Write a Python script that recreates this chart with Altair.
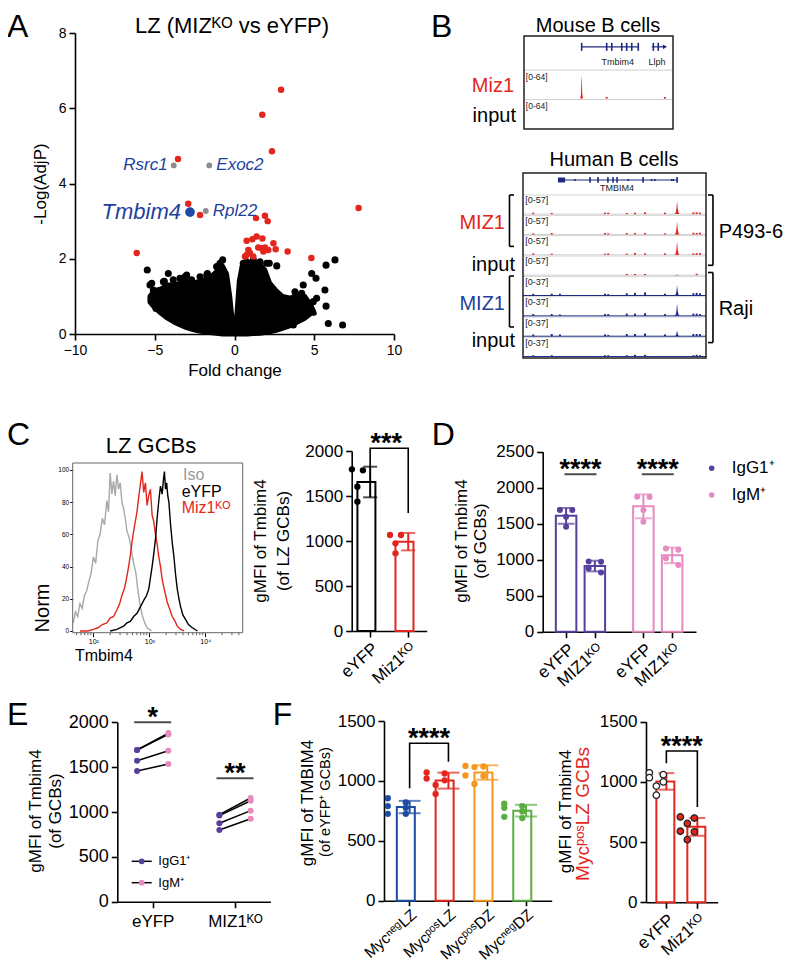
import altair as alt
import numpy as np
import pandas as pd

W, H = 784, 955
FONT = "Liberation Sans"
RED = "#e3261d"
LBLUE = "#1f3f9e"
GENE = "#1c2a7f"
TRKBLUE = "#1e2c86"
PURPLE = "#573f9b"
PINK = "#e68ac0"
FBLUE = "#1d4da3"
ORANGE = "#f5961e"
GREEN = "#5aae41"
ISO = "#a8a8a8"
ROT = -42

# ---------------- data ----------------
# A: volcano plot
cloud_x = [-5.3, -5.0, -4.6, -4.2, -3.8, -3.4, -3.0, -2.6, -2.2, -1.8, -1.4, -1.0, -0.75, -0.5, -0.3, -0.12, 0.0, 0.15, 0.3, 0.5,
           0.8, 1.2, 1.6, 1.9, 2.2, 2.6, 3.0, 3.5, 4.0, 4.4, 4.8, 5.0]
cloud_hi = [1.0, 1.15, 1.2, 1.3, 1.3, 1.35, 1.4, 1.35, 1.4, 1.45, 1.55, 1.7, 1.8, 1.6, 1.0, 0.25, 0.05, 0.5, 1.4, 1.85,
            1.88, 1.9, 1.85, 1.7, 1.35, 1.15, 1.0, 0.95, 1.05, 1.0, 0.75, 0.55]
cloud_lo = [0.85, 0.7, 0.55, 0.42, 0.32, 0.24, 0.17, 0.12, 0.08, 0.05, 0.03, 0.01, 0, 0, 0, 0, 0, 0, 0, 0,
            0, 0.01, 0.02, 0.04, 0.06, 0.1, 0.15, 0.22, 0.33, 0.42, 0.55, 0.55]
black_x = [-5.47, -5.19, -5.09, -4.92, -4.46, -4.15, -3.84, -4.57, -4.25, -4.04, -3.42, -3.0, -2.69, -2.16, -1.7, -1.12, -0.91,
           -0.74, -0.8, 0.55, 0.76, 1.18, 1.6, 2.02, 2.18, 2.65, 2.02, 2.44, 3.17, 3.79, 4.31, 4.21, 4.84, 5.11, 4.94, 4.84,
           4.21, 3.69, 5.74, 6.30, 5.67, 5.15, 5.74, 5.88, 6.78, -4.4, -3.1, -1.74, -5.3, -5.0, -4.7]
black_y = [1.70, 1.35, 1.17, 0.68, 1.39, 1.61, 1.44, 1.04, 0.81, 0.46, 1.48, 1.57, 1.44, 1.52, 1.61, 1.79, 1.88, 1.97, 1.52,
           1.88, 1.92, 1.97, 1.92, 1.88, 1.88, 1.81, 1.26, 1.17, 0.9, 1.12, 1.30, 1.08, 1.61, 1.48, 0.86, 0.64, 0.46, 0.24,
           1.83, 1.97, 1.17, 0.95, 0.74, 0.28, 0.24, 1.4, 1.52, 1.57, 1.3, 0.9, 0.7]
red_x = [2.92, 1.74, 2.35, -3.54, 7.78, -2.9, -2.16, 1.35, 1.91, 2.08, -6.13, 3.33, 4.82, 0.76, 1.12, 1.39, 1.75, 2.44, 1.49,
         1.91, 0.87, 1.81, 2.12, 0.76, 0.97, 1.70, 1.18, 2.58, 0.66]
red_y = [6.49, 5.83, 4.86, 4.65, 3.35, 3.46, 3.16, 3.08, 3.14, 3.0, 2.15, 2.19, 2.02, 2.48, 2.52, 2.59, 2.54, 2.41, 2.30,
         2.30, 2.23, 2.19, 2.23, 2.10, 2.15, 2.28, 2.06, 2.25, 2.06]
gray_names = ["Rsrc1", "Exoc2", "Rpl22"]
gray_x = [-3.81, -1.58, -1.80]
gray_y = [4.48, 4.48, 3.27]
hit_name = ["Tmbim4"]
hit_x = [-2.79]
hit_y = [3.24]

# B: genome tracks (x = % of the browser window, signal in reads)
m_exon_x = [38.7, 55.5, 58.9, 65.6, 68.9, 72.3, 76.7]
m_llph_exon_x = [86.8, 90.1]
m_peak_x = [37.7, 38.2, 38.5, 38.8, 39.1, 39.6]
m_peak_s = [0, 8, 40, 56, 12, 0]
m_dot_x = [55.5, 94.6]
m_dot_s = [4, 4]

h_exon_x = [36.6, 41.0, 46.4, 49.2, 51.4, 65.6, 84.2]
h_dot_x = [28.4, 57.5, 70.3, 72.1, 81.3, 82.2]
h_bump_x = [5.6, 15.7, 20.2, 44.8, 46.6, 56.7, 61.2, 66.7, 77.6, 93.1, 94.9, 96.7]
h_peak_x = 84.2
trk_label = ["[0-57]"] * 4 + ["[0-37]"] * 4
trk_max = [57] * 4 + [37] * 4
trk_peak = [46, 46, 46, 2, 23, 28, 13, 1]
trk_bumps = [
    [5, 4, 0, 5, 5, 4, 5, 6, 5, 6, 6, 5],
    [4, 5, 0, 5, 4, 5, 5, 5, 4, 6, 5, 6],
    [5, 4, 0, 4, 5, 4, 6, 5, 5, 5, 6, 6],
    [0, 0, 0, 0, 0, 4, 4, 4, 0, 0, 5, 0],
    [4, 4, 4, 4, 3, 5, 6, 7, 4, 5, 6, 5],
    [4, 4, 3, 4, 4, 5, 5, 6, 4, 5, 5, 4],
    [4, 5, 4, 4, 3, 5, 5, 6, 4, 5, 5, 5],
    [3, 3, 0, 3, 3, 3, 4, 4, 0, 3, 4, 3],
]
peak_dx = [-1.4, -0.7, -0.35, 0.0, 0.35, 0.8, 1.4]
peak_a = [0, 0.12, 0.45, 1.0, 0.4, 0.1, 0]

# C: histogram (x = log10 intensity, y = % of max)
iso_x = [1.64, 1.68, 1.72, 1.76, 1.80, 1.84, 1.88, 1.92, 1.96, 2.00, 2.04, 2.08, 2.12, 2.16, 2.20, 2.24, 2.27, 2.30, 2.33,
         2.36, 2.39, 2.42, 2.45, 2.48, 2.51, 2.54, 2.57, 2.60, 2.64, 2.68, 2.72, 2.76, 2.80, 2.84, 2.88, 2.92, 2.96, 3.00, 3.04]
iso_y = [5, 12, 9, 17, 14, 22, 25, 31, 36, 46, 42, 56, 60, 70, 66, 81, 74, 98, 85, 93, 84, 97, 88, 92, 80, 76, 70, 62, 58,
         50, 42, 36, 24, 15, 9, 5, 2, 1, 0]
ko_x = [1.76, 1.90, 2.00, 2.08, 2.16, 2.24, 2.30, 2.36, 2.42, 2.47, 2.51, 2.56, 2.60, 2.63, 2.66, 2.69, 2.72, 2.75, 2.78,
        2.81, 2.84, 2.87, 2.90, 2.93, 2.96, 2.99, 3.02, 3.05, 3.08, 3.11, 3.14, 3.17, 3.20, 3.23, 3.28, 3.32, 3.37, 3.41,
        3.46, 3.50, 3.56, 3.62]
ko_y = [0, 0, 1, 2, 4, 5, 8, 9, 13, 17, 22, 27, 34, 40, 47, 55, 62, 68, 74, 83, 91, 99, 86, 92, 78, 84, 88, 72, 68, 60, 54,
        46, 40, 32, 24, 18, 13, 9, 6, 3, 1, 0]
wt_x = [2.30, 2.42, 2.54, 2.60, 2.66, 2.72, 2.78, 2.84, 2.90, 2.95, 2.99, 3.02, 3.05, 3.08, 3.11, 3.14, 3.17, 3.20, 3.23,
        3.25, 3.27, 3.29, 3.31, 3.33, 3.35, 3.38, 3.41, 3.44, 3.47, 3.50, 3.53, 3.56, 3.60, 3.65, 3.70, 3.77, 3.86]
wt_y = [0, 1, 3, 5, 6, 9, 11, 15, 19, 22, 26, 33, 40, 48, 57, 70, 81, 90, 85, 93, 99, 88, 92, 84, 80, 66, 55, 46, 35, 26,
        20, 15, 10, 7, 4, 2, 0]

# C bars
C_cats = ["eYFP", "Miz1ᴷᴼ"]
C_vals = [[1796, 1785, 1604, 1437], [1067, 1067, 974, 863]]
# D bars
D_groups = ["IgG1⁺", "IgM⁺"]
D_genos = ["eYFP", "MIZ1ᴷᴼ"]
D_vals = [[1690, 1690, 1597, 1458], [975, 970, 880, 822], [1875, 1870, 1690, 1528], [1157, 1139, 1019, 926]]
# E paired
E_genos = ["eYFP", "MIZ1ᴷᴼ"]
E_igg1 = [[1691, 1691, 1572, 1457], [970, 960, 874, 799]]
E_igm = [[1880, 1865, 1683, 1535], [1156, 1126, 1015, 925]]
# F
F_cats = ["MycⁿᵉᵍLZ", "MycᵖᵒˢLZ", "MycᵖᵒˢDZ", "MycⁿᵉᵍDZ"]
F_vals = [[855, 820, 790, 775, 725, 725], [1070, 1062, 1020, 1005, 966, 891],
          [1125, 1120, 1115, 1045, 1040, 975], [810, 790, 775, 745, 700, 690]]
G_cats = ["eYFP", "Miz1ᴷᴼ"]
G_vals = [[1075, 1060, 1035, 1000, 965, 890], [709, 700, 655, 590, 585, 520]]


# ---------------- helpers ----------------
def cx(p):
    return p - 8


def cy(p):
    return p - 8


def xsc(domain, p0, p1, **kw):
    return alt.Scale(domain=domain, range=[cx(p0), cx(p1)], **kw)


def ysc(domain, pbot, ptop, **kw):
    return alt.Scale(domain=domain, range=[cy(pbot), cy(ptop)], **kw)


def bax(page_y, **kw):
    d = dict(orient="bottom", offset=cy(page_y) - H, title="", grid=False, labelFlush=False, labelOverlap=False)
    d.update(kw)
    return alt.Axis(**d)


def lax(page_x, **kw):
    d = dict(orient="left", offset=-cx(page_x), title="", grid=False, labelOverlap=False, format="d")
    d.update(kw)
    return alt.Axis(**d)


ONE = pd.DataFrame({"k": [0]})


def note(text, x, y, size=17, color="black", align="left", baseline="alphabetic", angle=0, style="normal",
         weight="normal"):
    kw = dict(text=text, fontSize=size, color=color, align=align, baseline=baseline, fontStyle=style,
              fontWeight=weight)
    if angle:
        kw["angle"] = angle
    return alt.Chart(ONE).mark_text(**kw).encode(x=alt.value(cx(x)), y=alt.value(cy(y)))


def slots(vals, thr):
    order = sorted(range(len(vals)), key=lambda i: -vals[i])
    out = [0] * len(vals)
    k = 0
    while k < len(order):
        if k + 1 < len(order) and vals[order[k]] - vals[order[k + 1]] < thr:
            out[order[k]] = -1
            out[order[k + 1]] = 1
            k += 2
        else:
            k += 1
    return out


def QX(f, sc, axis=None):
    return alt.X(f, type="quantitative", scale=sc, axis=axis)


def QY(f, sc, axis=None):
    return alt.Y(f, type="quantitative", scale=sc, axis=axis)


layers = []

# ---------------- panel A ----------------
sxA = xsc([-10, 10], 75, 394)
syA = ysc([0, 8], 334, 33)
axAx = bax(334, values=[-10, -5, 0, 5, 10], title="Fold change", labelFontSize=14, titleFontSize=17,
           titlePadding=5, labelPadding=3)
axAy = lax(75, values=[0, 2, 4, 6, 8], title="-Log(AdjP)", labelFontSize=14, titleFontSize=17,
           titlePadding=9, labelPadding=3)
A_area = alt.Chart(pd.DataFrame({"x": cloud_x, "hi": cloud_hi, "lo": cloud_lo})).mark_area(
    color="black", stroke="black", strokeWidth=5, strokeJoin="round").encode(
    x=QX("x", sxA, axAx), y=QY("hi", syA, axAy), y2=alt.Y2("lo"))


def A_pts(xs, ys, color, size):
    return alt.Chart(pd.DataFrame({"x": xs, "y": ys})).mark_circle(color=color, size=size, opacity=1).encode(
        x=QX("x", sxA, axAx), y=QY("y", syA, axAy))


A_labels = []
for nm, gx, gy, side in zip(gray_names, gray_x, gray_y, ["right", "left", "left"]):
    A_labels.append(alt.Chart(pd.DataFrame({"x": [gx], "y": [gy], "t": [nm]})).mark_text(
        align=side, baseline="middle", dx=(-6 if side == "right" else 7), fontSize=17, fontStyle="italic",
        color=LBLUE).encode(x=QX("x", sxA, axAx), y=QY("y", syA, axAy), text="t:N"))
A_labels.append(alt.Chart(pd.DataFrame({"x": hit_x, "y": hit_y, "t": hit_name})).mark_text(
    align="right", baseline="middle", dx=-9, fontSize=22, fontStyle="italic", color=LBLUE).encode(
    x=QX("x", sxA, axAx), y=QY("y", syA, axAy), text="t:N"))
layers.append(alt.layer(A_area, A_pts(black_x, black_y, "black", 50), A_pts(red_x, red_y, RED, 42),
                        A_pts(gray_x, gray_y, "#8c8c8c", 34), A_pts(hit_x, hit_y, "#1f4aa8", 95), *A_labels))
layers.append(note("A", 7, 37, 32))
layers.append(note("LZ (MIZᴷᴼ vs eYFP)", 232, 32.5, 22, align="center"))


# ---------------- panel B ----------------
def hrules(df, sx, sy, w, ax=None, ay=None):
    return alt.Chart(df).mark_rule(strokeWidth=w).encode(
        x=QX("x0", sx, ax), x2=alt.X2("x1"), y=QY("y", sy, ay), color=alt.Color("c:N", scale=None))


def vrules(df, sx, sy, w, ax=None, ay=None):
    return alt.Chart(df).mark_rule(strokeWidth=w).encode(
        x=QX("x", sx, ax), y=QY("y0", sy, ay), y2=alt.Y2("y1"), color=alt.Color("c:N", scale=None))


def texts(df, sx, sy, size, align, baseline):
    return alt.Chart(df).mark_text(fontSize=size, align=align, baseline=baseline).encode(
        x=QX("x", sx), y=QY("y", sy), text="t:N", color=alt.Color("c:N", scale=None))


def boxrect(x0, x1, y0, y1, sx, sy, stroke="#222", w=1.5, ax=None, ay=None):
    return alt.Chart(pd.DataFrame({"x0": [x0], "x1": [x1], "y0": [y0], "y1": [y1]})).mark_rect(
        fill="white", fillOpacity=0, stroke=stroke, strokeWidth=w).encode(
        x=QX("x0", sx, ax), x2=alt.X2("x1"), y=QY("y0", sy, ay), y2=alt.Y2("y1"))


# mouse
sxM = xsc([0, 100], 524, 673)
syM = alt.Scale(domain=[0, 3], range=[cy(36), cy(129)])
m_rows = [0, 1.1, 2.05, 3]
m_base = 2.02
M = []
M.append(hrules(pd.DataFrame({"x0": [0, 0], "x1": [100, 100], "y": [m_rows[1], m_rows[2]], "c": ["#cfcfcf"] * 2}),
                sxM, syM, 1))
m_pk = pd.DataFrame({"x": m_peak_x, "top": [m_base - s / 64 * 0.85 for s in m_peak_s], "base": [m_base] * 6})
M.append(alt.Chart(m_pk).mark_area(color=RED).encode(x=QX("x", sxM), y=QY("top", syM), y2=alt.Y2("base")))
M.append(vrules(pd.DataFrame({"x": m_dot_x, "y0": [m_base - s / 64 * 0.85 for s in m_dot_s], "y1": [m_base] * 2,
                              "c": [RED] * 2}), sxM, syM, 2))
M.append(hrules(pd.DataFrame({"x0": [m_exon_x[0], m_llph_exon_x[0] - 1.1], "x1": [m_exon_x[-1], 94.6],
                              "y": [0.35, 0.35], "c": [GENE, GENE]}), sxM, syM, 1.2))
M.append(vrules(pd.DataFrame({"x": m_exon_x + m_llph_exon_x, "y0": [0.22] * 9, "y1": [0.48] * 9, "c": [GENE] * 9}),
                sxM, syM, 1.6))
M.append(alt.Chart(pd.DataFrame({"x": [94.6], "y": [0.35]})).mark_point(
    shape="triangle-right", filled=True, size=22, color=GENE, opacity=1).encode(x=QX("x", sxM), y=QY("y", syM)))
M.append(texts(pd.DataFrame({"x": [63, 89.3], "y": [0.83, 0.83], "t": ["Tmbim4", "Llph"], "c": ["#222"] * 2}),
               sxM, syM, 9, "center", "middle"))
M.append(texts(pd.DataFrame({"x": [1.2, 1.2], "y": [m_rows[1] + 0.08, m_rows[2] + 0.08], "t": ["[0-64]"] * 2,
                             "c": ["#222"] * 2}), sxM, syM, 8.5, "left", "top"))
M.append(texts(pd.DataFrame({"x": [-6.7, -5.4], "y": [1.6, 2.58], "t": ["Miz1", "input"], "c": [RED, "black"]}),
               sxM, syM, 20, "right", "middle"))
M.append(boxrect(0, 100, 0, 3, sxM, syM))
layers.append(alt.layer(*M))
layers.append(note("B", 431, 37, 32))
layers.append(note("Mouse B cells", 598, 32, 20, align="center"))

# human
sxHu = xsc([0, 100], 523, 706)
syHu = alt.Scale(domain=[0, 9], range=[cy(173), cy(358)])
tops = [1.07 + i * 0.99 for i in range(8)]
bases = [t + 0.93 for t in tops]
HU = []
HU.append(hrules(pd.DataFrame({"x0": [0] * 8, "x1": [100] * 8, "y": tops, "c": ["#d4d4d4"] * 8}), sxHu, syHu, 1))
HU.append(hrules(pd.DataFrame({"x0": [0] * 8, "x1": [100] * 8, "y": bases,
                               "c": ["#cfcfcf"] * 4 + [TRKBLUE] * 4}), sxHu, syHu, 1))
pk_rows, bump_rows = [], []
for i in range(8):
    col = RED if i < 4 else TRKBLUE
    for dx, a in zip(peak_dx, peak_a):
        pk_rows.append(dict(seg=i, x=h_peak_x + dx, top=bases[i] - a * trk_peak[i] / trk_max[i] * 0.8,
                            base=bases[i], c=col))
    for bx, s in zip(h_bump_x, trk_bumps[i]):
        if s > 0:
            bump_rows.append(dict(x=bx, y0=bases[i] - s / trk_max[i] * 0.8, y1=bases[i], c=col))
HU.append(alt.Chart(pd.DataFrame(pk_rows)).mark_area().encode(
    x=QX("x", sxHu), y=QY("top", syHu), y2=alt.Y2("base"), detail="seg:N", color=alt.Color("c:N", scale=None)))
HU.append(vrules(pd.DataFrame(bump_rows), sxHu, syHu, 2))
HU.append(hrules(pd.DataFrame({"x0": [19.1], "x1": [84.5], "y": [0.34], "c": [GENE]}), sxHu, syHu, 1.2))
HU.append(alt.Chart(pd.DataFrame({"x0": [19.1], "x1": [23.0], "y0": [0.22], "y1": [0.46]})).mark_rect(
    color=GENE).encode(x=QX("x0", sxHu), x2=alt.X2("x1"), y=QY("y0", syHu), y2=alt.Y2("y1")))
HU.append(vrules(pd.DataFrame({"x": h_exon_x, "y0": [0.2] * 7, "y1": [0.48] * 7, "c": [GENE] * 7}), sxHu, syHu, 1.6))
HU.append(vrules(pd.DataFrame({"x": h_dot_x, "y0": [0.29] * 6, "y1": [0.39] * 6, "c": [GENE] * 6}), sxHu, syHu, 1.6))
HU.append(texts(pd.DataFrame({"x": [51.4], "y": [0.74], "t": ["TMBIM4"], "c": ["#222"]}), sxHu, syHu, 9,
                "center", "middle"))
HU.append(texts(pd.DataFrame({"x": [1.2] * 8, "y": [t + 0.07 for t in tops], "t": trk_label, "c": ["#222"] * 8}),
                sxHu, syHu, 9, "left", "top"))
# brackets
HU.append(vrules(pd.DataFrame({"x": [-7.38, -7.38, 103.8, 103.8], "y0": [1.07, 5.01, 1.07, 4.84],
                               "y1": [3.57, 7.49, 4.49, 8.25], "c": ["black"] * 4}), sxHu, syHu, 1.6))
HU.append(hrules(pd.DataFrame({"x0": [-7.38] * 4 + [101.1] * 4, "x1": [-4.92] * 4 + [103.8] * 4,
                               "y": [1.07, 3.57, 5.01, 7.49, 1.07, 4.49, 4.84, 8.25], "c": ["black"] * 8}),
                 sxHu, syHu, 1.6))
HU.append(texts(pd.DataFrame({"x": [-9.84, -4.37, -9.84, -4.37], "y": [2.43, 4.47, 6.35, 8.17],
                              "t": ["MIZ1", "input", "MIZ1", "input"], "c": [RED, "black", LBLUE, "black"]}),
                sxHu, syHu, 20, "right", "middle"))
HU.append(texts(pd.DataFrame({"x": [106.9, 106.9], "y": [2.85, 6.61], "t": ["P493-6", "Raji"],
                              "c": ["black", "black"]}), sxHu, syHu, 20, "left", "middle"))
HU.append(boxrect(0, 100, 0, 9, sxHu, syHu))
layers.append(alt.layer(*HU))
layers.append(note("Human B cells", 614, 166, 20, align="center"))

# ---------------- panel C histogram ----------------
sxCh = xsc([1.63, 4.67], 72.7, 242.7)
syCh = ysc([-1.06, 104.3], 632.7, 463)
axChx = bax(632.7, values=[2, 3, 4], domain=False, tickSize=4, tickWidth=1, labelFontSize=7, labelPadding=1,
            labelExpr="datum.value == 2 ? '10²' : datum.value == 3 ? '10³' : '10⁴'")
axChy = lax(72.7, values=[0, 20, 40, 60, 80, 100], domain=False, tickSize=3, tickWidth=1, labelFontSize=6.5,
            labelPadding=1)
minor = [float(np.log10(k * 10 ** d)) for d in (1, 2, 3, 4) for k in range(2, 10)]
minor = [m for m in minor if 1.63 < m < 4.67]
hist = pd.concat([
    pd.DataFrame({"x": iso_x, "y": iso_y, "s": "iso", "c": ISO}),
    pd.DataFrame({"x": ko_x, "y": ko_y, "s": "ko", "c": RED}),
    pd.DataFrame({"x": wt_x, "y": wt_y, "s": "wt", "c": "black"}),
])
CH = []
CH.append(alt.Chart(hist).mark_line(strokeWidth=1.4).encode(
    x=QX("x", sxCh, axChx), y=QY("y", syCh, axChy), detail="s:N", color=alt.Color("c:N", scale=None)))
CH.append(vrules(pd.DataFrame({"x": minor, "y0": [-1.06] * len(minor), "y1": [-2.6] * len(minor),
                               "c": ["#333"] * len(minor)}), sxCh, syCh, 0.8, axChx, axChy))
CH.append(boxrect(1.63, 4.67, -1.06, 104.3, sxCh, syCh, stroke="#666", w=1, ax=axChx, ay=axChy))
layers.append(alt.layer(*CH))
layers.append(note("C", 7, 445, 32))
layers.append(note("LZ GCBs", 151, 452.5, 22, align="center"))
layers.append(note("Iso", 183, 480, 16, color="#9a9a9a"))
layers.append(note("eYFP", 181.7, 497, 16))
layers.append(note("Miz1ᴷᴼ", 181.7, 513, 16, color=RED))
layers.append(note("Norm", 43, 608, 20, align="center", baseline="middle", angle=270))
layers.append(note("Tmbim4", 75, 661, 16))


# ---------------- bar panels (band x) ----------------
def bar_panel(cats, vals, cols, sx, sy, xax, yax, jit, thr, cap, psize, bracket, stars, star_dx,
              pfill=None, pstroke=None, psw=0.0):
    S, P = [], []
    for i, (c, v, col) in enumerate(zip(cats, vals, cols)):
        m = float(np.mean(v))
        s = float(np.std(v, ddof=1))
        S.append(dict(cat=c, mean=m, lo=m - s, hi=m + s, col=col))
        pf = pfill[i] if pfill else col
        ps = pstroke[i] if pstroke else col
        for val, sl in zip(v, slots(v, thr)):
            P.append(dict(cat=c, v=val, slot=sl, pf=pf, ps=ps))
    dS = pd.DataFrame(S)
    dP = pd.DataFrame(P)
    dC = pd.concat([dS[["cat", "col"]].assign(v=dS["hi"]), dS[["cat", "col"]].assign(v=dS["lo"])])

    def X0():
        return alt.X("cat:N", scale=sx, axis=xax)

    bars = alt.Chart(dS).mark_bar(fill="white", strokeWidth=2).encode(
        x=X0(), y=QY("mean", sy, yax), stroke=alt.Stroke("col:N", scale=None))
    err = alt.Chart(dS).mark_rule(strokeWidth=2).encode(
        x=X0(), y=QY("lo", sy, yax), y2=alt.Y2("hi"), color=alt.Color("col:N", scale=None))
    caps = alt.Chart(dC).mark_tick(orient="horizontal", size=cap, thickness=2).encode(
        x=X0(), y=QY("v", sy, yax), color=alt.Color("col:N", scale=None))
    pts = alt.Chart(dP).mark_point(filled=True, size=psize, opacity=1, strokeWidth=psw).encode(
        x=X0(), xOffset=alt.XOffset("slot:Q", scale=alt.Scale(domain=[-1, 1], range=[-jit, jit])),
        y=QY("v", sy, yax), fill=alt.Fill("pf:N", scale=None), stroke=alt.Stroke("ps:N", scale=None))
    dB = pd.DataFrame({"cat": [b[0] for b in bracket], "v": [b[1] for b in bracket],
                       "o": list(range(len(bracket)))})
    br = alt.Chart(dB).mark_line(color="black", strokeWidth=1.6).encode(x=X0(), y=QY("v", sy, yax), order="o:Q")
    top = max(b[1] for b in bracket)
    st = alt.Chart(pd.DataFrame({"cat": [bracket[0][0]], "v": [top], "t": [stars]})).mark_text(
        fontSize=27, fontWeight="bold", dx=star_dx, dy=4, baseline="alphabetic").encode(
        x=X0(), y=QY("v", sy, yax), text="t:N")
    return alt.layer(bars, err, caps, pts, br, st)


# C bar
sxC = xsc(C_cats, 351.7, 426.7, type="band", paddingInner=0.33, paddingOuter=0.15)
syC = ysc([0, 2000], 631, 451)
layers.append(bar_panel(
    C_cats, C_vals, ["black", RED], sxC, syC,
    bax(631, labelAngle=ROT, labelFontSize=17, labelPadding=3),
    lax(351.7, values=[0, 500, 1000, 1500, 2000], labelFontSize=17, labelPadding=3),
    jit=5.5, thr=80, cap=14, psize=40,
    bracket=[(C_cats[0], 1825), (C_cats[0], 2030), (C_cats[1], 2030), (C_cats[1], 1310)],
    stars="***", star_dx=16.2))
layers.append(note("gMFI of Tmbim4", 260.8, 541, 17, align="center", baseline="middle", angle=270))
layers.append(note("(of LZ GCBs)", 284, 541, 17, align="center", baseline="middle", angle=270))

# ---------------- panel D ----------------
sxD = xsc([-0.424, 1.43], 542.7, 696)
syD = ysc([0, 2500], 631.7, 451.7)
DODGE = 0.186
axDx = bax(631.7, values=[-DODGE, DODGE, 1 - DODGE, 1 + DODGE], labelAngle=ROT, labelFontSize=17, labelPadding=3,
           labelExpr="((datum.value % 1) + 1) % 1 > 0.5 ? 'eYFP' : 'MIZ1ᴷᴼ'")
axDy = lax(542.7, values=[0, 500, 1000, 1500, 2000, 2500], labelFontSize=17, labelPadding=3)
D_cols = [PURPLE, PINK]
DS, DP, DC = [], [], []
k = 0
for gi, g in enumerate(D_groups):
    for si, ge in enumerate(D_genos):
        v = D_vals[k]
        k += 1
        pos = gi + (DODGE if si else -DODGE)
        m = float(np.mean(v))
        s = float(np.std(v, ddof=1))
        DS.append(dict(pos=pos, mean=m, lo=m - s, hi=m + s, col=D_cols[gi]))
        DC += [dict(pos=pos, v=m + s, col=D_cols[gi]), dict(pos=pos, v=m - s, col=D_cols[gi])]
        for val, sl in zip(v, slots(v, 100)):
            DP.append(dict(pos=pos + sl * 0.08, v=val, col=D_cols[gi]))
dDS = pd.DataFrame(DS)
D_layers = [
    alt.Chart(dDS).mark_bar(orient="vertical", width=20.5, fill="white", strokeWidth=2).encode(
        x=QX("pos", sxD, axDx), y=QY("mean", syD, axDy), stroke=alt.Stroke("col:N", scale=None)),
    alt.Chart(dDS).mark_rule(strokeWidth=2).encode(x=QX("pos", sxD, axDx), y=QY("lo", syD, axDy), y2=alt.Y2("hi"),
                                                   color=alt.Color("col:N", scale=None)),
    alt.Chart(pd.DataFrame(DC)).mark_tick(orient="horizontal", size=17, thickness=2).encode(
        x=QX("pos", sxD, axDx), y=QY("v", syD, axDy), color=alt.Color("col:N", scale=None)),
    alt.Chart(pd.DataFrame(DP)).mark_circle(size=36, opacity=1).encode(
        x=QX("pos", sxD, axDx), y=QY("v", syD, axDy), color=alt.Color("col:N", scale=None)),
    alt.Chart(pd.DataFrame({"pos": [0, 1], "v": [2186, 2186]})).mark_tick(
        orient="horizontal", size=32, thickness=2, color="black").encode(
        x=QX("pos", sxD, axDx), y=QY("v", syD, axDy)),
    alt.Chart(pd.DataFrame({"pos": [0, 1], "v": [2186, 2186], "t": ["****", "****"]})).mark_text(
        fontSize=27, fontWeight="bold", dy=4, baseline="alphabetic").encode(
        x=QX("pos", sxD, axDx), y=QY("v", syD, axDy), text="t:N"),
]
layers.append(alt.layer(*D_layers))
layers.append(note("D", 431.7, 445, 32))
layers.append(note("gMFI of Tmbim4", 461.7, 541, 17, align="center", baseline="middle", angle=270))
layers.append(note("(of GCBs)", 480.7, 541, 17, align="center", baseline="middle", angle=270))
leg = pd.DataFrame({"t": D_groups, "c": D_cols, "yy": [cy(468.3), cy(495)]})
layers.append(alt.Chart(leg).mark_circle(size=30, opacity=1).encode(
    x=alt.value(cx(711.7)), y=alt.Y("yy:Q", scale=None), color=alt.Color("c:N", scale=None)))
layers.append(alt.Chart(leg).mark_text(fontSize=17, align="left", baseline="middle").encode(
    x=alt.value(cx(731.7)), y=alt.Y("yy:Q", scale=None), text="t:N"))

# ---------------- panel E ----------------
sxE = xsc([-0.43, 1.43], 117.3, 270.4)
syE = ysc([0, 2000], 901.7, 722.3)
axEx = bax(901.7, values=[0, 1], labelFontSize=17, labelPadding=6,
           labelExpr="datum.value < 0.5 ? 'eYFP' : 'MIZ1ᴷᴼ'")
axEy = lax(117.3, values=[0, 500, 1000, 1500, 2000], labelFontSize=18, labelPadding=3)
EDG = 0.19
EL, EP = [], []
for gi in range(2):
    for j, (a, b) in enumerate(zip(E_igg1[gi], E_igm[gi])):
        pid = f"{gi}-{j}"
        EL += [dict(pos=gi - EDG, v=a, pair=pid), dict(pos=gi + EDG, v=b, pair=pid)]
        EP += [dict(pos=gi - EDG, v=a, col=PURPLE), dict(pos=gi + EDG, v=b, col=PINK)]
E_layers = [
    alt.Chart(pd.DataFrame(EL)).mark_line(color="black", strokeWidth=1.5).encode(
        x=QX("pos", sxE, axEx), y=QY("v", syE, axEy), detail="pair:N"),
    alt.Chart(pd.DataFrame(EP)).mark_circle(size=36, opacity=1).encode(
        x=QX("pos", sxE, axEx), y=QY("v", syE, axEy), color=alt.Color("col:N", scale=None)),
    alt.Chart(pd.DataFrame({"pos": [0, 1], "v": [2000, 1376]})).mark_tick(
        orient="horizontal", size=37, thickness=2, color="black").encode(
        x=QX("pos", sxE, axEx), y=QY("v", syE, axEy)),
    alt.Chart(pd.DataFrame({"pos": [0, 1], "v": [2000, 1376], "t": ["*", "**"]})).mark_text(
        fontSize=27, fontWeight="bold", dy=4, baseline="alphabetic").encode(
        x=QX("pos", sxE, axEx), y=QY("v", syE, axEy), text="t:N"),
]
layers.append(alt.layer(*E_layers))
layers.append(note("E", 7, 725, 32))
layers.append(note("gMFI of Tmbim4", 35.8, 811, 17, align="center", baseline="middle", angle=270))
layers.append(note("(of GCBs)", 55.8, 811, 17, align="center", baseline="middle", angle=270))
eleg = pd.DataFrame({"t": ["IgG1⁺", "IgM⁺"], "c": [PURPLE, PINK], "yy": [cy(861.3), cy(882.7)]})
layers.append(alt.Chart(eleg).mark_rule(color="black", strokeWidth=1.5).encode(
    x=alt.value(cx(131.7)), x2=alt.value(cx(151.7)), y=alt.Y("yy:Q", scale=None)))
layers.append(alt.Chart(eleg).mark_circle(size=34, opacity=1).encode(
    x=alt.value(cx(141.7)), y=alt.Y("yy:Q", scale=None), color=alt.Color("c:N", scale=None)))
layers.append(alt.Chart(eleg).mark_text(fontSize=13, align="left", baseline="middle").encode(
    x=alt.value(cx(158.3)), y=alt.Y("yy:Q", scale=None), text="t:N"))

# ---------------- panel F ----------------
sxF = xsc(F_cats, 384, 551.7, type="band", paddingInner=0.34, paddingOuter=0.33)
syF = ysc([0, 1500], 900.7, 721)
layers.append(bar_panel(
    F_cats, F_vals, [FBLUE, RED, ORANGE, GREEN], sxF, syF,
    bax(900.7, labelAngle=ROT, labelFontSize=15.5, labelPadding=1, tickSize=5),
    lax(384, values=[0, 500, 1000, 1500], labelFontSize=17, labelPadding=3),
    jit=9, thr=60, cap=22, psize=40,
    bracket=[(F_cats[0], 938), (F_cats[0], 1314), (F_cats[1], 1314), (F_cats[1], 1160)],
    stars="****", star_dx=19.4))
layers.append(note("F", 272.7, 725, 32))
layers.append(note("gMFI of TMBIM4", 307.5, 803, 17, align="center", baseline="middle", angle=270))
layers.append(note("(of eYFP⁺ GCBs)", 326, 802, 14.5, align="center", baseline="middle", angle=270))

sxG = xsc(G_cats, 646, 717.7, type="band", paddingInner=0.355, paddingOuter=0.334)
syG = ysc([0, 1500], 902.3, 721.7)
layers.append(bar_panel(
    G_cats, G_vals, [RED, RED], sxG, syG,
    bax(902.3, labelAngle=ROT, labelFontSize=17, labelPadding=3),
    lax(646, values=[0, 500, 1000, 1500], labelFontSize=17, labelPadding=3),
    jit=7, thr=60, cap=16, psize=42,
    bracket=[(G_cats[0], 1154), (G_cats[0], 1257), (G_cats[1], 1257), (G_cats[1], 792)],
    stars="****", star_dx=15.5, pfill=["white", RED], pstroke=["#222", "#222"], psw=1.3))
layers.append(note("gMFI of Tmbim4", 566, 811.5, 17, align="center", baseline="middle", angle=270))
layers.append(note("MycᵖᵒˢLZ GCBs", 582.5, 814, 19, color=RED, align="center", baseline="middle", angle=270))

chart = alt.layer(*layers).resolve_scale(
    x="independent", y="independent", xOffset="independent"
).resolve_axis(x="independent", y="independent").properties(
    width=W, height=H, autosize=alt.AutoSizeParams(type="none"), padding=0
).configure(font=FONT).configure_view(stroke="transparent").configure_axis(
    domainColor="black", tickColor="black", labelColor="black", titleColor="black", domainWidth=1.6,
    tickWidth=1.6, tickSize=6, grid=False, labelFont=FONT, titleFont=FONT, titleFontWeight="normal"
)

chart.save("out.html", embed_options={"renderer": "svg", "actions": False})
